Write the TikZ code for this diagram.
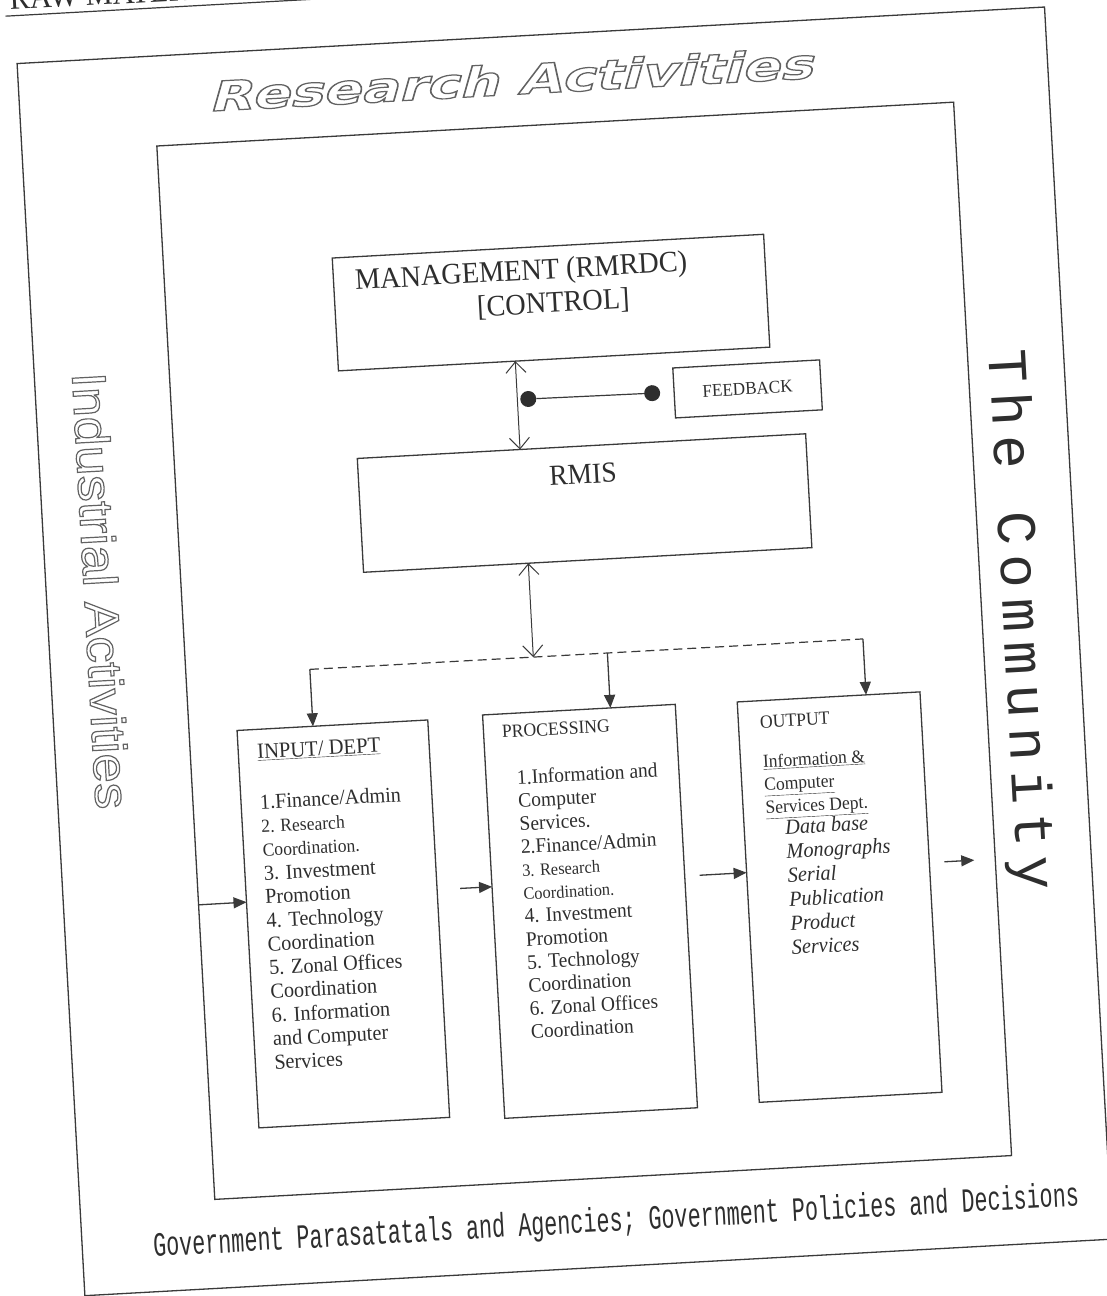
\documentclass[tikz,border=0pt]{standalone}
\usepackage{fontspec}
\usepackage{graphicx}
\setmainfont[FakeStretch=0.95]{Liberation Serif}
\newfontfamily\govfont[FakeStretch=0.64]{Liberation Mono}
\newfontfamily\commfont[LetterSpace=17]{Liberation Mono}
\newfontfamily\indfont[FakeStretch=1.1]{Liberation Sans}
\newfontfamily\resfont[FakeSlant=0.25]{DejaVu Sans}
\usetikzlibrary{arrows.meta,calc}
\definecolor{ink}{HTML}{2E2E2E}
\definecolor{edge}{HTML}{3A3A3A}
\definecolor{hol}{HTML}{626262}
\newcommand\hollowon{\special{pdf:literal direct 1 Tr 1.2 w}}
\newcommand\hollowoff{\special{pdf:literal direct 0 Tr}}
\newcommand\fMg{\fontsize{29.8}{32}\selectfont}
\newcommand\fRm{\fontsize{29}{32}\selectfont}
\newcommand\fFb{\fontsize{18}{20}\selectfont}
\newcommand\fIn{\fontsize{21.3}{23}\selectfont}
\newcommand\fInS{\fontsize{18.5}{20}\selectfont}
\newcommand\fInH{\fontsize{21.7}{24}\selectfont}
\newcommand\fPr{\fontsize{20.5}{23}\selectfont}
\newcommand\fPrS{\fontsize{17.3}{19}\selectfont}
\newcommand\fPrH{\fontsize{18.6}{20}\selectfont}
\newcommand\fOuH{\fontsize{18.6}{20}\selectfont}
\newcommand\fOu{\fontsize{18.5}{20}\selectfont}
\newcommand\fOi{\fontsize{21.4}{23}\selectfont\itshape}
\newcommand\fHd{\fontsize{32}{34}\selectfont}
\begin{document}
\begin{tikzpicture}[x=1pt,y=1pt,
  frame/.style={draw=edge,line width=1.3pt,inner sep=0pt,outer sep=0pt},
  txt/.style={inner sep=0pt,outer sep=0pt,text=ink},
  tri/.style={draw=edge,line width=1.3pt,-{Triangle[length=13pt,width=11pt]}},
  dbl/.style={draw=edge,line width=1pt,{Straight Barb[length=11pt,width=20pt]}-{Straight Barb[length=11pt,width=20pt]}},
  bus/.style={draw=edge,line width=1.2pt,dash pattern=on 9pt off 5pt},
  fbdot/.style={circle,fill=ink,inner sep=0pt,minimum size=16pt},
  rule/.style={draw=edge,line width=1.2pt}]
\useasboundingbox[fill=white] (0,0) rectangle (1106,1296);
\begin{scope}[shift={(553,648)},rotate=3.15,transform shape]
% header
\node[txt,anchor=base west,font=\fHd] (hdr) at (-507,667) {RAW MATERIALS};
\coordinate (r1) at (-512,661);
\coordinate (r2) at (400,661);
\draw[rule] (r1) -- (r2);
% frames
\node[frame,minimum width=1029pt,minimum height=1234pt] (ofr) at (11.5,-4) {};
\node[frame,minimum width=798pt,minimum height=1055pt] (frame) at (31,-4.5) {};
% side texts
\node[txt,text=hol] (res) at (-12,570) {\resizebox{605pt}{31pt}{\fontsize{40}{40}\selectfont\resfont\bfseries\hollowon Research Activities\hollowoff}};
\node[txt,text=hol,rotate=-90,font={\indfont\fontsize{48}{52}\selectfont}] (ind) at (-448,82) {\hollowon Industrial Activities\hollowoff};
\node[txt,rotate=-90,font={\commfont\fontsize{56}{60}\selectfont}] (comm) at (466,2.6) {The Community};
\node[txt,font={\govfont\fontsize{34}{36}\selectfont}] (gov) at (31.5,-577) {Government Parasatatals and Agencies; Government Policies and Decisions};
% management
\node[frame,minimum width=432pt,minimum height=113pt] (mgmt) at (17,345) {};
\node[txt,anchor=base west,font=\fMg] (mg1) at (-177.5,368.8) {MANAGEMENT (RMRDC)};
\node[txt,anchor=base west,font=\fMg] (mg2) at (-57,335) {[CONTROL]};
% feedback
\node[frame,minimum width=147pt,minimum height=50pt,font=\fFb,text=ink] (fb) at (208.5,248) {FEEDBACK};
\node[fbdot] (dotL) at (-11,250) {};
\node[fbdot] (dotR) at (113,249) {};
\draw[draw=edge,line width=1.2pt] (dotL) -- (dotR);
% RMIS
\node[frame,minimum width=449pt,minimum height=114pt] (rmis) at (39.5,143) {};
\node[txt,anchor=base,font=\fRm] (rmist) at (39.5,162.5) {RMIS};
\draw[dbl] ($(mgmt.south west)!0.410!(mgmt.south east)$) -- ($(rmis.north west)!0.363!(rmis.north east)$);
% bus
\coordinate (busL) at (-244,-8);
\coordinate (busR) at (310,-8);
\draw[bus] (busL) -- (busR);
\draw[dbl] ($(rmis.south west)!0.3675!(rmis.south east)$) -- ($(busL)!0.404!(busR)$);
% three boxes
\node[frame,minimum width=191pt,minimum height=398pt] (inp) at (-224.5,-264) {};
\node[frame,minimum width=193pt,minimum height=404pt] (proc) at (22.5,-265) {};
\node[frame,minimum width=183pt,minimum height=401pt] (outp) at (272.5,-264.5) {};
\draw[tri] (busL) -- ($(inp.north west)!0.398!(inp.north east)$);
\draw[tri] ($(busL)!0.538!(busR)$) -- ($(proc.north west)!0.663!(proc.north east)$);
\draw[tri] (busR) -- ($(outp.north west)!0.705!(outp.north east)$);
% horizontal arrows
\draw[tri] ($(frame.south west)!0.2796!(frame.north west)$) -- ($(inp.south west)!0.568!(inp.north west)$);
\coordinate (a2s) at (-106,-235);
\draw[tri] (a2s) -- ($(proc.south west)!0.574!(proc.north west)$);
\coordinate (a3s) at (134,-235);
\draw[tri] (a3s) -- ($(outp.south west)!0.5736!(outp.north west)$);
\coordinate (a4s) at (379,-235);
\coordinate (a4e) at (409,-235);
\draw[tri] (a4s) -- (a4e);
% input text
\node[txt,anchor=base west,font=\fInH] (inh) at (-301,-94.5) {\underline{INPUT/ DEPT}};
\foreach \itm [count=\i] in {1.Finance/Admin,{\fInS 2. Research},{\fInS Coordination.},3. Investment,Promotion,4. Technology,Coordination,5. Zonal Offices,Coordination,6. Information,and Computer,Services}
  \node[txt,anchor=base west,font=\fIn] (in\i) at (-301,{-145-23.7*(\i-1)}) {\itm};
% processing text
\node[txt,anchor=base west,font=\fPrH] (prh) at (-55.5,-87) {PROCESSING};
\foreach \itm [count=\i] in {1.Information and,Computer,Services.,2.Finance/Admin,{\fPrS 3. Research},{\fPrS Coordination.},4. Investment,Promotion,5. Technology,Coordination,6. Zonal Offices,Coordination}
  \node[txt,anchor=base west,font=\fPr] (pr\i) at (-43,{-134.4-23.1*(\i-1)}) {\itm};
% output text
\node[txt,anchor=base west,font=\fOuH] (ouh) at (202.6,-91.3) {OUTPUT};
\foreach \itm [count=\i] in {Information \&,Computer,Services Dept.}
  \node[txt,anchor=base west,font=\fOu] (ou\i) at (203.4,{-131.3-22.9*(\i-1)}) {\underline{\itm}};
\foreach \itm [count=\i] in {Data base,Monographs,Serial,Publication,Product,Services}
  \node[txt,anchor=base west,font=\fOi] (oi\i) at (222,{-199-24*(\i-1)}) {\itm};
\end{scope}
\end{tikzpicture}
\end{document}
